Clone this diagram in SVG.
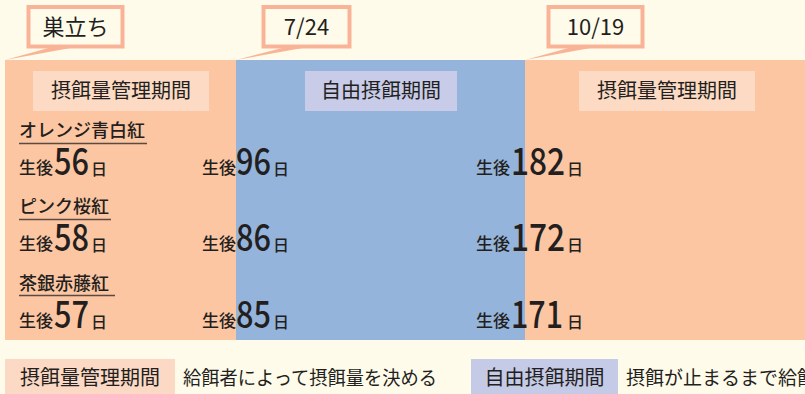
<svg xmlns="http://www.w3.org/2000/svg" width="805" height="394" viewBox="0 0 805 394">
<style>
text{font-family:"Noto Sans CJK JP","Noto Sans",sans-serif;fill:#231f20}
.date{font-size:22px;text-anchor:middle}
.per{font-size:20px;text-anchor:middle}
.name{font-size:18px;font-weight:500}
.sm{font-size:17px;font-weight:500}
.num{font-size:37px;font-weight:500}
.day{font-size:16px;font-weight:500}
.leg{font-size:19px}
.box{fill:#fffbea;stroke:#f9b497;stroke-width:4}
.tail{fill:#f9b497}
.ul{stroke:#5b4a42;stroke-width:1.5}
</style>
<rect x="0" y="0" width="805" height="394" fill="#fffbea"/>
<g id="bands">
<rect x="5" y="60" width="231" height="280" fill="#fcc6a2"/>
<rect x="236" y="60" width="289" height="280" fill="#94b4dc"/>
<rect x="525" y="60" width="280" height="280" fill="#fcc6a2"/>
</g>
<g id="connectors">
<polygon class="tail" points="5,60 52,47 76,47"/>
<polygon class="tail" points="236,60 286,47 308,47"/>
<polygon class="tail" points="525,60 572,47 596,47"/>
</g>
<g id="date-hatch">
<rect class="box" x="28.5" y="7" width="94" height="39.5"/>
<text class="date" x="75.5" y="34.5">巣立ち</text>
</g>
<g id="date-0724">
<rect class="box" x="263.5" y="7" width="86" height="39.5"/>
<text class="date" x="306.5" y="35">7/24</text>
</g>
<g id="date-1019">
<rect class="box" x="548.5" y="7" width="94" height="39.5"/>
<text class="date" x="595.5" y="35">10/19</text>
</g>
<g id="period-1">
<rect x="33" y="71" width="176" height="40" fill="#fcdac4"/>
<text class="per" x="121" y="98">摂餌量管理期間</text>
</g>
<g id="period-2">
<rect x="305" y="71" width="152" height="40" fill="#c8cce8"/>
<text class="per" x="381" y="98">自由摂餌期間</text>
</g>
<g id="period-3">
<rect x="579" y="71" width="176" height="40" fill="#fcdac4"/>
<text class="per" x="667" y="98">摂餌量管理期間</text>
</g>
<g id="variety-orange">
<text class="name" x="19" y="137">オレンジ青白紅</text>
<line class="ul" x1="19" y1="143.5" x2="147" y2="143.5"/>
<text class="sm" x="19" y="174">生後</text><text class="num" x="54" y="175" textLength="35" lengthAdjust="spacingAndGlyphs">56</text><text class="day" x="91" y="175">日</text>
<text class="sm" x="202" y="174">生後</text><text class="num" x="236" y="175" textLength="35" lengthAdjust="spacingAndGlyphs">96</text><text class="day" x="273" y="175">日</text>
<text class="sm" x="476" y="174">生後</text><text class="num" x="511" y="175" textLength="54" lengthAdjust="spacingAndGlyphs">182</text><text class="day" x="567" y="175">日</text>
</g>
<g id="variety-pink">
<text class="name" x="19" y="213">ピンク桜紅</text>
<line class="ul" x1="19" y1="219.5" x2="111" y2="219.5"/>
<text class="sm" x="19" y="250">生後</text><text class="num" x="54" y="251" textLength="35" lengthAdjust="spacingAndGlyphs">58</text><text class="day" x="91" y="251">日</text>
<text class="sm" x="202" y="250">生後</text><text class="num" x="236" y="251" textLength="35" lengthAdjust="spacingAndGlyphs">86</text><text class="day" x="273" y="251">日</text>
<text class="sm" x="476" y="250">生後</text><text class="num" x="511" y="251" textLength="54" lengthAdjust="spacingAndGlyphs">172</text><text class="day" x="567" y="251">日</text>
</g>
<g id="variety-brown">
<text class="name" x="19" y="289.5">茶銀赤藤紅</text>
<line class="ul" x1="19" y1="295.5" x2="115" y2="295.5"/>
<text class="sm" x="19" y="327">生後</text><text class="num" x="54" y="328" textLength="35" lengthAdjust="spacingAndGlyphs">57</text><text class="day" x="91" y="328">日</text>
<text class="sm" x="202" y="327">生後</text><text class="num" x="236" y="328" textLength="35" lengthAdjust="spacingAndGlyphs">85</text><text class="day" x="273" y="328">日</text>
<text class="sm" x="476" y="327">生後</text><text class="num" x="511" y="328" textLength="52" lengthAdjust="spacingAndGlyphs">171</text><text class="day" x="567" y="328">日</text>
</g>
<g id="legend-managed">
<rect x="5" y="359" width="170" height="35" fill="#fcd9c4"/>
<text class="per" x="90" y="385">摂餌量管理期間</text>
<text class="leg" x="183" y="385" textLength="254" lengthAdjust="spacingAndGlyphs">給餌者によって摂餌量を決める</text>
</g>
<g id="legend-free">
<rect x="471" y="359" width="147" height="35" fill="#c5cae6"/>
<text class="per" x="544.5" y="385">自由摂餌期間</text>
<text class="leg" x="626" y="385">摂餌が止まるまで給餌</text>
</g>
</svg>
